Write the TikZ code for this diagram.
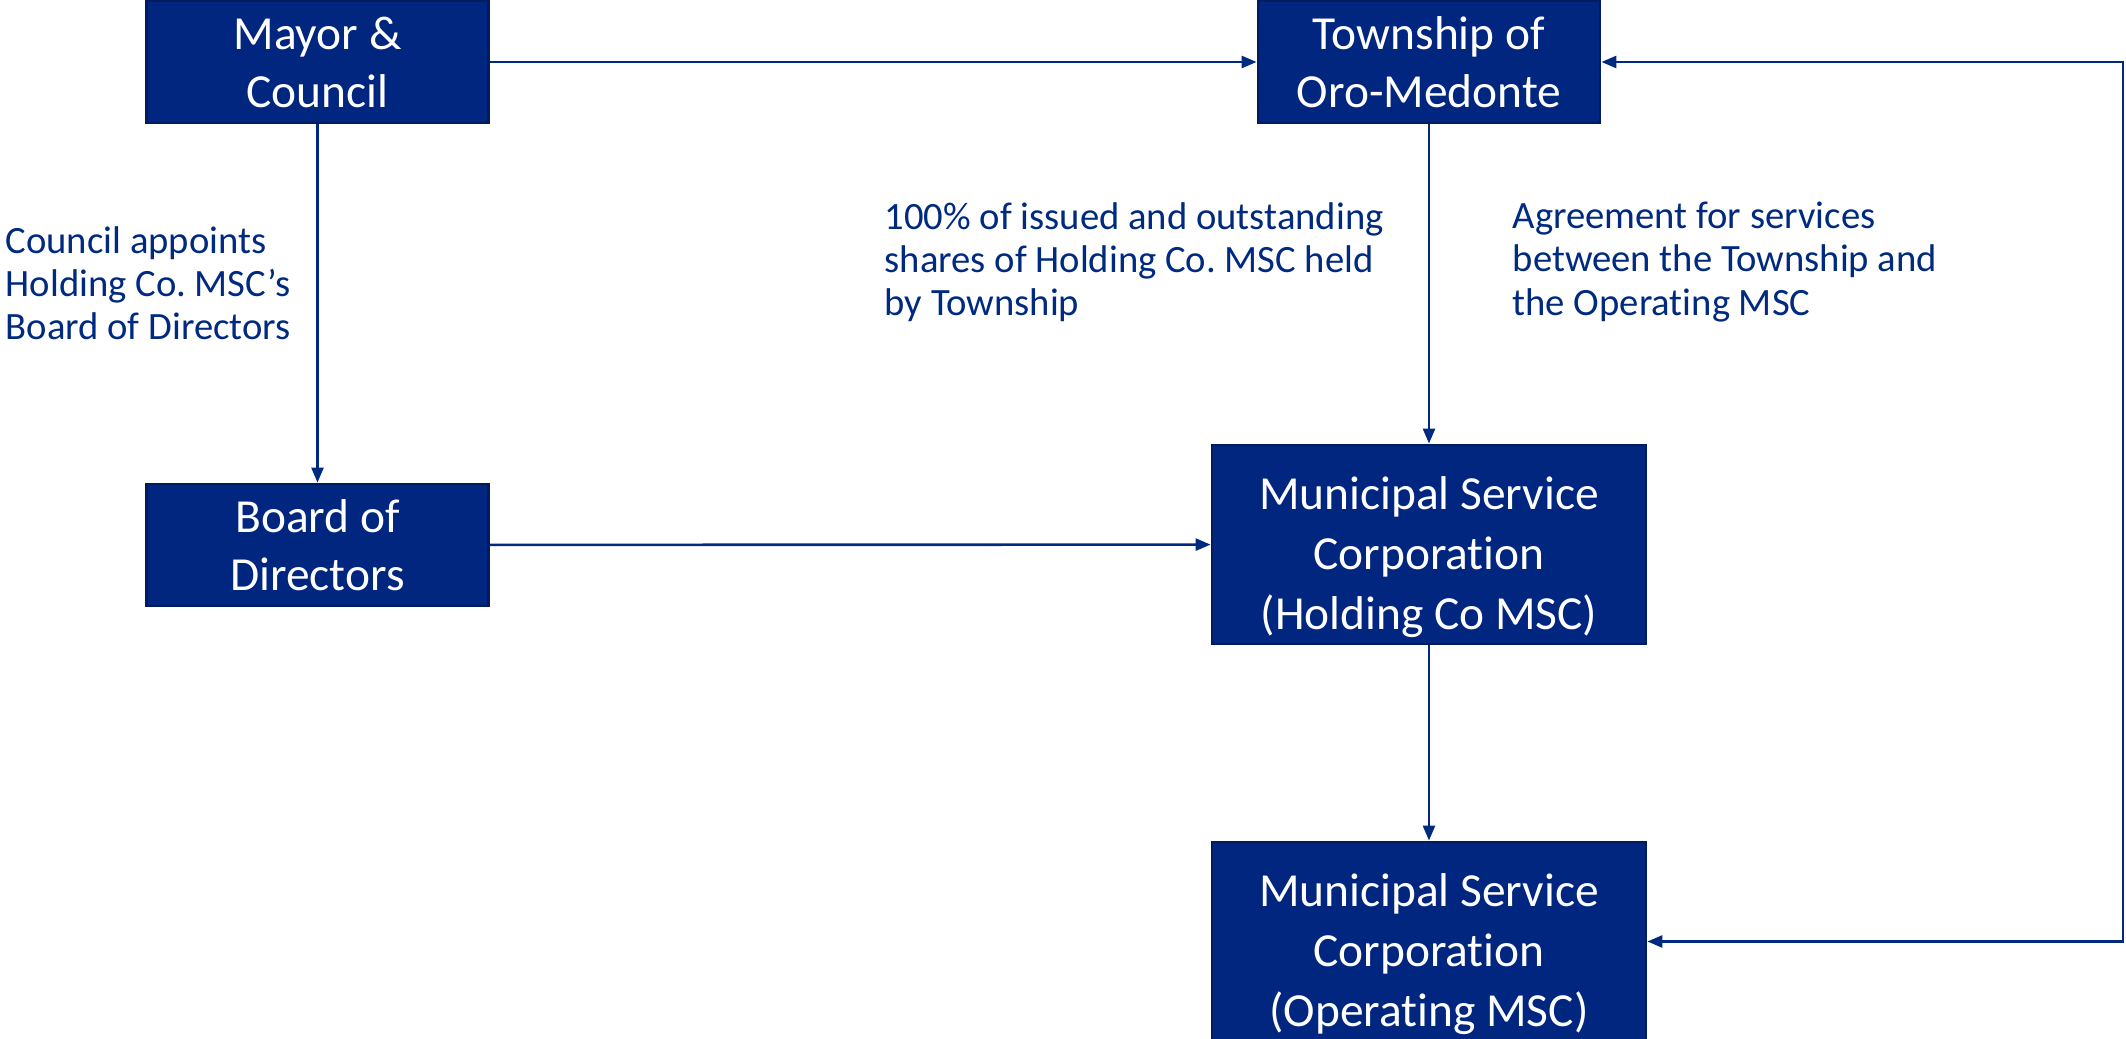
\documentclass[tikz,border=0pt]{standalone}
\usepackage{fontspec}
\setmainfont{Carlito}[Ligatures={NoCommon,NoContextual},Contextuals=NoAlternate]
\usetikzlibrary{arrows.meta}
\frenchspacing

\definecolor{msnavy}{HTML}{002A7F}
\definecolor{msfill}{HTML}{00267F}
\definecolor{msedge}{HTML}{001B5E}

\newcommand{\msctop}{\rule{0pt}{0.58cm}}

\tikzset{
	orgbox/.style={draw=msedge, line width=0.8pt, fill=msfill, text=white, align=center,
		inner sep=0pt, font=\fontsize{13.5}{16.5}\selectfont},
	smallbox/.style={orgbox, minimum width=3.42cm, minimum height=1.22cm},
	bigbox/.style={orgbox, minimum width=4.34cm, minimum height=1.99cm,
		font=\fontsize{13.5}{17}\selectfont},
	note/.style={text=msnavy, align=left, anchor=west, inner sep=0pt,
		font=\fontsize{11}{12.3}\selectfont},
	link/.style={draw=msnavy, line width=0.75pt, -{Triangle[length=1.5mm,width=1.2mm]}}
}

\begin{document}
\begin{tikzpicture}
			\useasboundingbox (0,0) rectangle (21.26,10.39);
			
			% Draw the boxes
			\node[smallbox] (mayor) at (3.175,9.77) {Mayor \&\\Council};
			\node[smallbox] (township) at (14.29,9.77) {Township of\\Oro-Medonte};
			\node[smallbox] (board) at (3.175,4.94) {Board of\\Directors};
			\node[bigbox] (holding) at (14.29,4.945) {\msctop Municipal Service\\Corporation\\(Holding Co MSC)};
			\node[bigbox] (operating) at (14.29,0.975) {\msctop Municipal Service\\Corporation\\(Operating MSC)};
			
			% Draw the arrows between the boxes
			\draw[link] (mayor) -- (township);
			\draw[link] (mayor) -- (board);
			\draw[link] (board) -- (holding);
			\draw[link] (township) -- (holding);
			\draw[link] (holding) -- (operating);
			
			% Agreement loop on the right
			\coordinate (rightcorner) at (21.23,9.77);
			\draw[link, {Triangle[length=1.5mm,width=1.2mm]}-{Triangle[length=1.5mm,width=1.2mm]}]
			(township.east) -- (rightcorner) |- (operating.east);
			
			% Add the notes
			\node[note] (appoints) at (0.05,7.56) {Council appoints\\Holding Co. MSC’s\\Board of Directors};
			\node[note] (shares) at (8.84,7.77) {100\% of issued and outstanding\\shares of Holding Co. MSC held\\by Township};
			\node[note] (agreement) at (15.12,7.77) {Agreement for services\\between the Township and\\the Operating MSC};
			
		\end{tikzpicture}
\end{document}
